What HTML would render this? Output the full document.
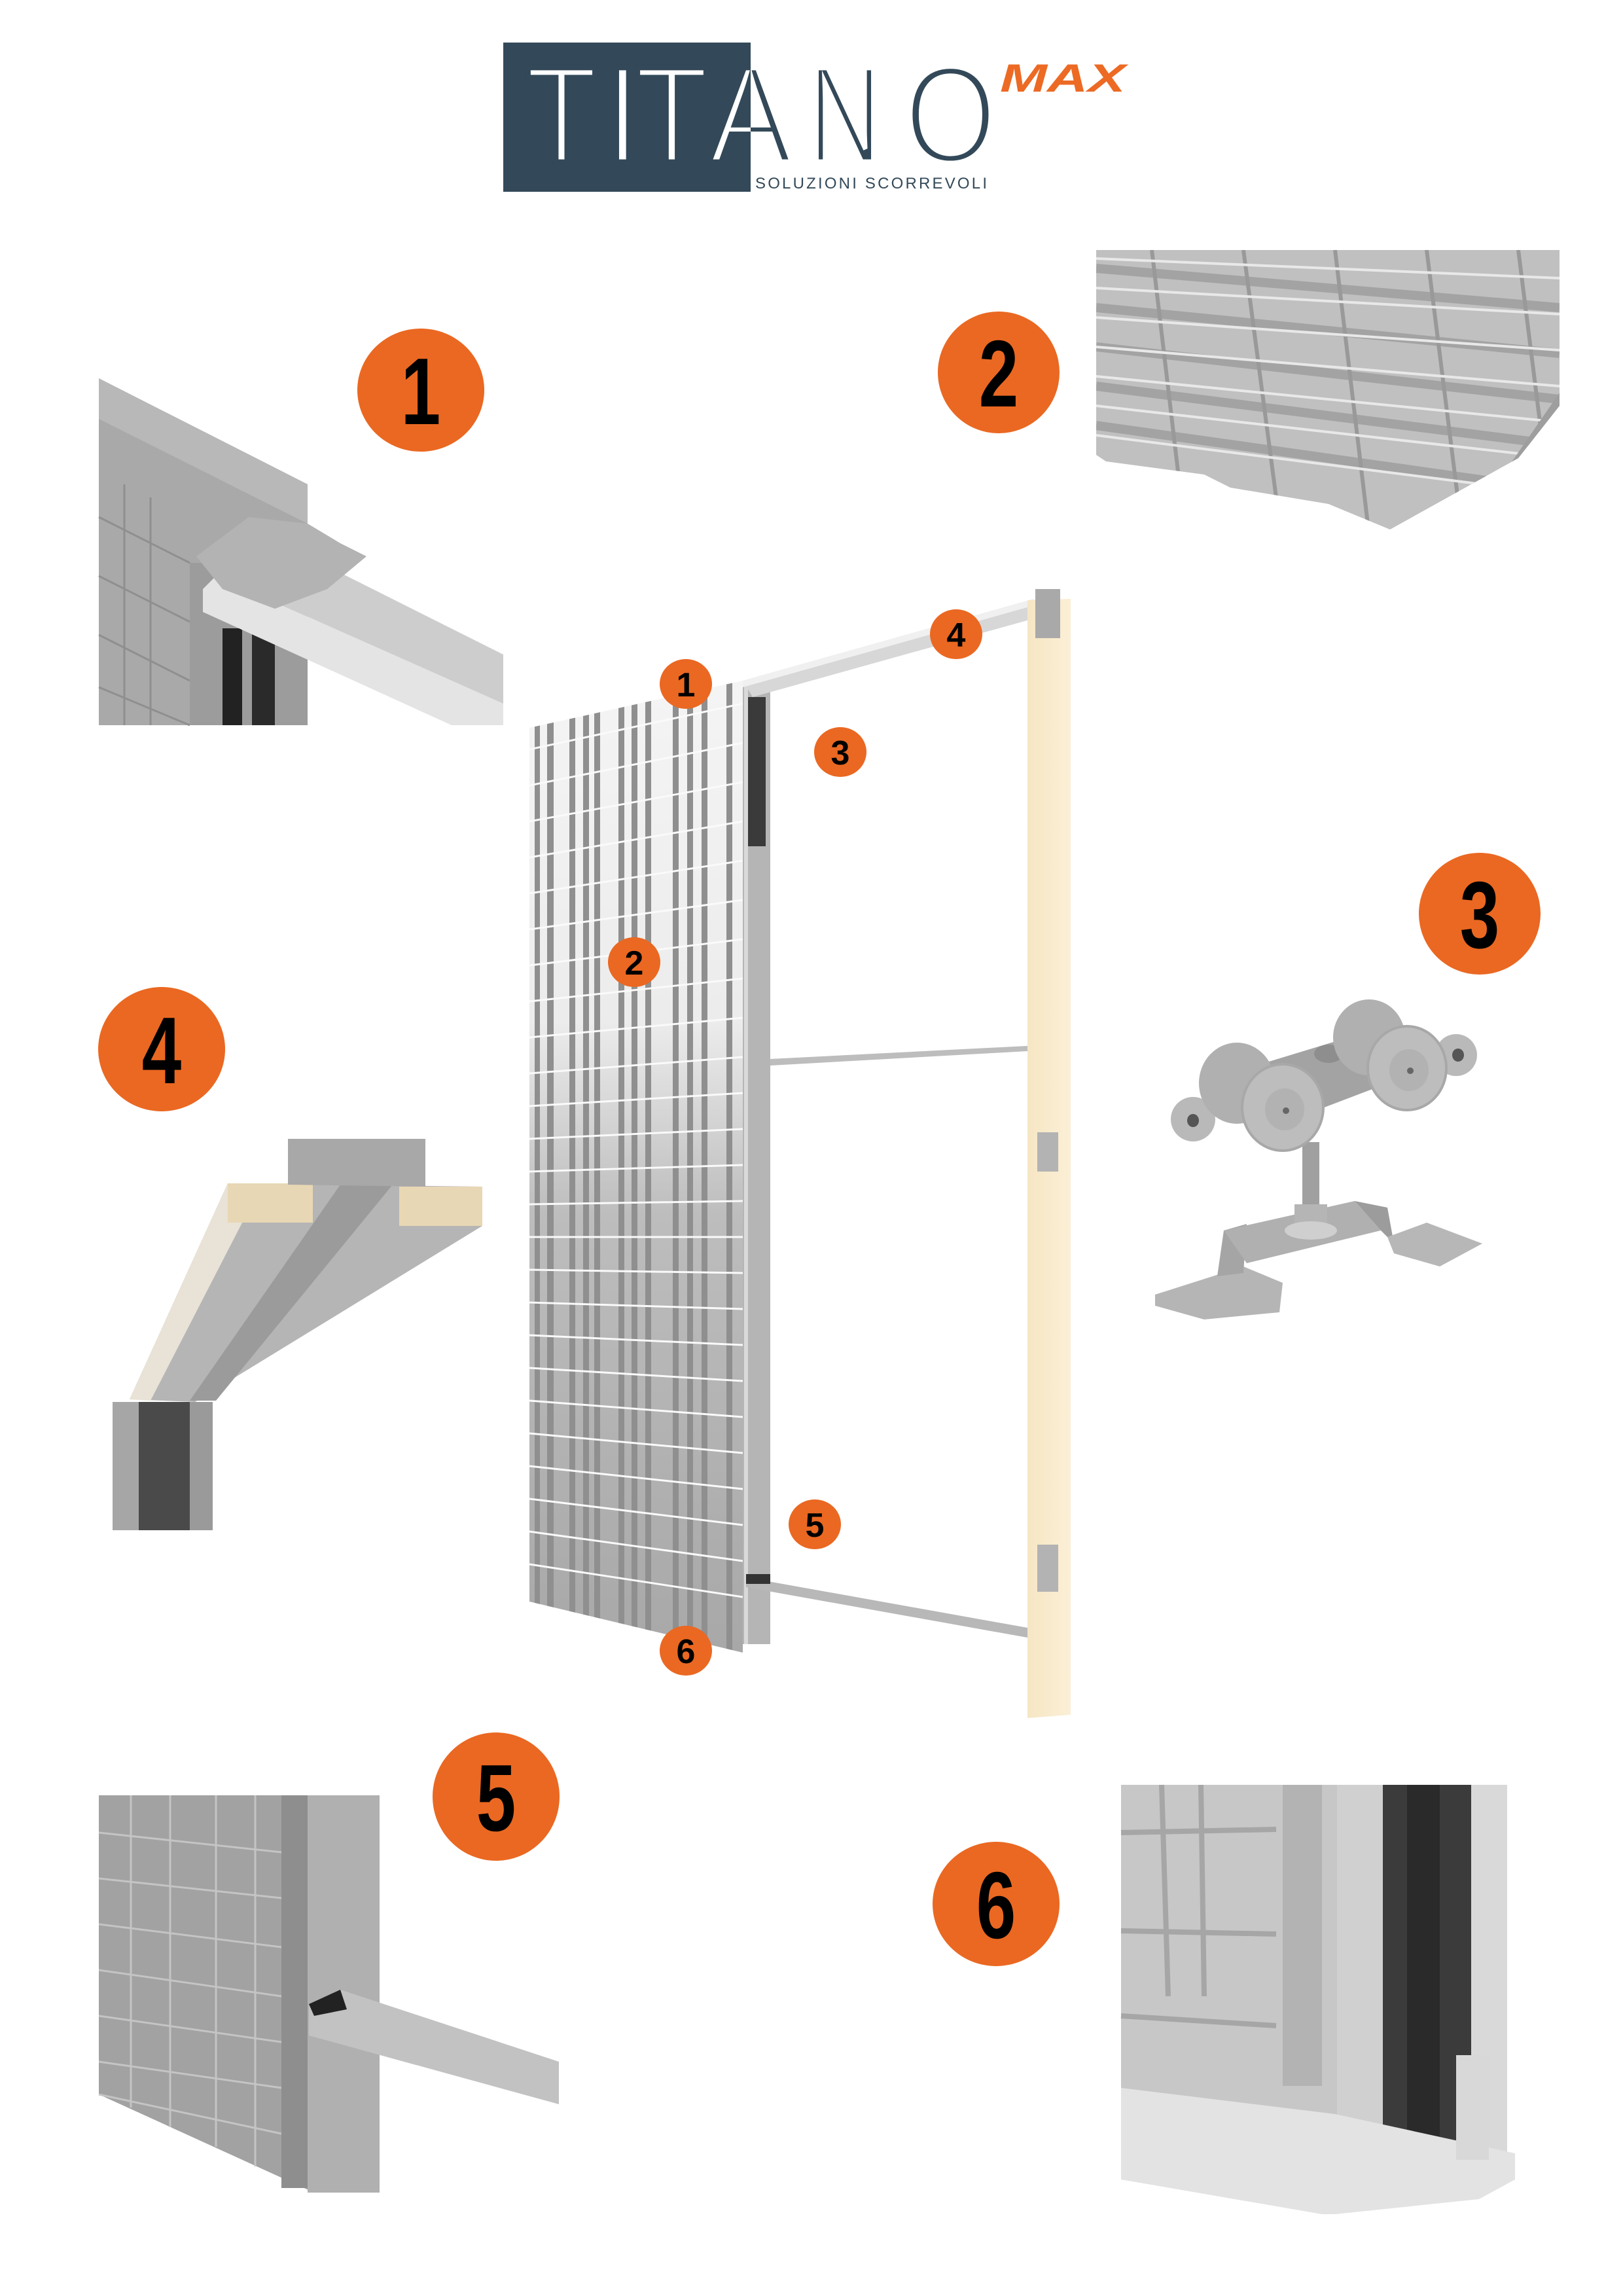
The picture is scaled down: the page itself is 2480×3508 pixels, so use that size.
<!DOCTYPE html>
<html><head><meta charset="utf-8"><style>
html,body{margin:0;padding:0;background:#fff}
svg{display:block}
</style></head><body>
<svg width="2480" height="3508" viewBox="0 0 2480 3508" xmlns="http://www.w3.org/2000/svg">
<defs>
<linearGradient id="panelg" x1="0" y1="0" x2="0" y2="1">
<stop offset="0" stop-color="#f4f4f4"/><stop offset="0.35" stop-color="#ececec"/><stop offset="0.55" stop-color="#bdbdbd"/><stop offset="1" stop-color="#a8a8a8"/></linearGradient>
<linearGradient id="wood" x1="0" y1="0" x2="1" y2="0">
<stop offset="0" stop-color="#f6e6c4"/><stop offset="1" stop-color="#fbefd6"/></linearGradient>
<clipPath id="boxclip"><rect x="769" y="65" width="378" height="228"/></clipPath>
<clipPath id="outclip"><rect x="1147" y="40" width="700" height="300"/></clipPath>
<clipPath id="panelclip"><polygon points="809,1112 1135,1040 1135,2525 809,2447"/></clipPath>
<clipPath id="p2clip"><polygon points="1675,382 2383,382 2383,620 2320,700 2124,809 2030,770 1880,745 1840,725 1690,705 1675,695"/></clipPath>
</defs>

<!-- LOGO -->
<rect x="769" y="65" width="378" height="228" fill="#334959"/>
<g font-family="Liberation Sans, sans-serif" font-size="211">
<g clip-path="url(#boxclip)" fill="#fff" stroke="#334959" stroke-width="9">
<text x="803" y="248" textLength="110" lengthAdjust="spacingAndGlyphs">T</text>
<text x="922" y="248">I</text>
<text x="970" y="248" textLength="113" lengthAdjust="spacingAndGlyphs">T</text>
<text x="1083" y="248" textLength="128" lengthAdjust="spacingAndGlyphs">A</text>
</g>
<g clip-path="url(#outclip)" fill="#334959" stroke="#fff" stroke-width="9">
<text x="1083" y="248" textLength="128" lengthAdjust="spacingAndGlyphs">A</text>
<text x="1235" y="248" textLength="112" lengthAdjust="spacingAndGlyphs">N</text>
<text x="1382" y="248" textLength="141" lengthAdjust="spacingAndGlyphs">O</text>
</g>
</g>
<text x="1528" y="140" font-family="Liberation Sans, sans-serif" font-size="60" font-weight="bold" font-style="italic" fill="#ec6a24" textLength="192" lengthAdjust="spacingAndGlyphs">MAX</text>
<text x="1154" y="288" font-family="Liberation Sans, sans-serif" font-size="24" fill="#334959" textLength="354" lengthAdjust="spacing">SOLUZIONI SCORREVOLI</text>

<!-- PHOTO 1 -->
<g>
<polygon points="151,578 470,740 470,1108 151,1108" fill="#a9a9a9"/>
<polygon points="151,578 470,740 470,800 151,640" fill="#b8b8b8"/>
<g stroke="#8f8f8f" stroke-width="3" fill="none">
<line x1="151" y1="790" x2="290" y2="860"/><line x1="151" y1="880" x2="290" y2="950"/><line x1="151" y1="970" x2="290" y2="1040"/><line x1="151" y1="1050" x2="290" y2="1108"/>
<line x1="190" y1="740" x2="190" y2="1108"/><line x1="230" y1="760" x2="230" y2="1108"/></g>
<rect x="290" y="860" width="180" height="248" fill="#9c9c9c"/>
<rect x="340" y="960" width="30" height="148" fill="#222"/><rect x="385" y="960" width="35" height="148" fill="#2a2a2a"/>
<polygon points="310,900 330,880 769,1075 769,1108 690,1108 310,935" fill="#e4e4e4"/>
<polygon points="330,880 410,820 769,1000 769,1075" fill="#cdcdcd"/>
<polygon points="300,850 380,790 470,800 520,830 560,850 500,900 420,930 340,900" fill="#b3b3b3"/>
</g>

<!-- PHOTO 2 -->
<g clip-path="url(#p2clip)">
<rect x="1675" y="382" width="708" height="430" fill="#c0c0c0"/>
<g stroke="#a3a3a3" stroke-width="14">
<line x1="1675" y1="410" x2="2383" y2="470"/><line x1="1675" y1="470" x2="2383" y2="540"/><line x1="1675" y1="530" x2="2383" y2="610"/><line x1="1675" y1="590" x2="2383" y2="680"/><line x1="1675" y1="650" x2="2383" y2="750"/></g>
<g stroke="#999" stroke-width="6">
<line x1="1760" y1="382" x2="1800" y2="720"/><line x1="1900" y1="382" x2="1950" y2="760"/><line x1="2040" y1="382" x2="2090" y2="800"/><line x1="2180" y1="382" x2="2230" y2="780"/><line x1="2320" y1="382" x2="2360" y2="700"/></g>
<g stroke="#e8e8e8" stroke-width="4">
<line x1="1675" y1="395" x2="2383" y2="425"/><line x1="1675" y1="440" x2="2383" y2="480"/><line x1="1675" y1="485" x2="2383" y2="535"/><line x1="1675" y1="530" x2="2383" y2="590"/><line x1="1675" y1="575" x2="2383" y2="645"/><line x1="1675" y1="620" x2="2383" y2="700"/><line x1="1675" y1="665" x2="2383" y2="755"/></g>
<polygon points="2300,720 2383,600 2383,625 2310,740" fill="#9e9e9e"/>
</g>

<!-- PHOTO 3 trolley -->
<g>
<!-- bracket -->
<polygon points="1765,1978 1900,1935 1960,1960 1955,2005 1840,2016 1765,1995" fill="#b5b5b5"/>
<polygon points="1860,1950 1870,1880 1905,1870 1900,1945" fill="#a5a5a5"/>
<polygon points="1870,1880 2070,1835 2110,1880 1905,1930" fill="#b0b0b0"/>
<polygon points="2070,1835 2120,1845 2130,1900 2110,1880" fill="#9c9c9c"/>
<polygon points="2120,1890 2180,1868 2265,1900 2200,1935 2130,1915" fill="#b7b7b7"/>
<!-- bolt and nut -->
<rect x="1990" y="1745" width="26" height="100" fill="#a0a0a0"/>
<rect x="1978" y="1840" width="50" height="38" fill="#b5b5b5"/>
<ellipse cx="2003" cy="1880" rx="40" ry="14" fill="#cfcfcf"/>
<!-- body -->
<polygon points="1880,1640 2110,1570 2160,1640 1950,1720" fill="#a3a3a3"/>
<ellipse cx="2030" cy="1610" rx="22" ry="14" fill="#8e8e8e"/>
<!-- ears -->
<ellipse cx="1823" cy="1710" rx="34" ry="34" fill="#b9b9b9"/><ellipse cx="1823" cy="1712" rx="9" ry="10" fill="#555"/>
<ellipse cx="2225" cy="1612" rx="32" ry="32" fill="#b9b9b9"/><ellipse cx="2228" cy="1612" rx="9" ry="10" fill="#555"/>
<!-- wheels -->
<ellipse cx="1890" cy="1655" rx="58" ry="62" fill="#b0b0b0"/>
<ellipse cx="2092" cy="1585" rx="55" ry="58" fill="#b0b0b0"/>
<ellipse cx="1960" cy="1692" rx="62" ry="66" fill="#bdbdbd" stroke="#a8a8a8" stroke-width="4"/>
<ellipse cx="1963" cy="1695" rx="30" ry="32" fill="#b2b2b2"/><circle cx="1965" cy="1697" r="5" fill="#666"/>
<ellipse cx="2150" cy="1632" rx="60" ry="64" fill="#bdbdbd" stroke="#a8a8a8" stroke-width="4"/>
<ellipse cx="2153" cy="1635" rx="30" ry="32" fill="#b2b2b2"/><circle cx="2155" cy="1636" r="5" fill="#666"/>
</g>

<!-- PHOTO 4 -->
<g>
<polygon points="348,1808 737,1813 737,1873 298,2142 198,2138" fill="#b5b5b5"/>
<polygon points="348,1808 400,1810 230,2140 198,2138" fill="#e9e2d6"/>
<polygon points="520,1810 600,1810 330,2140 290,2140" fill="#9b9b9b"/>
<rect x="348" y="1808" width="130" height="60" fill="#e8d7b4"/>
<rect x="610" y="1813" width="127" height="60" fill="#e8d7b4"/>
<polygon points="440,1740 650,1740 650,1813 440,1810" fill="#a8a8a8"/>
<rect x="172" y="2142" width="153" height="196" fill="#4a4a4a"/>
<rect x="172" y="2142" width="40" height="196" fill="#a6a6a6"/><rect x="290" y="2142" width="35" height="196" fill="#9a9a9a"/>
</g>

<!-- PHOTO 5 -->
<g>
<polygon points="151,2743 580,2743 580,3350 480,3350 151,3200" fill="#a2a2a2"/>
<g stroke="#c4c4c4" stroke-width="3">
<line x1="151" y1="2800" x2="430" y2="2830"/><line x1="151" y1="2870" x2="430" y2="2900"/><line x1="151" y1="2940" x2="430" y2="2975"/><line x1="151" y1="3010" x2="430" y2="3050"/><line x1="151" y1="3080" x2="430" y2="3120"/><line x1="151" y1="3150" x2="430" y2="3190"/><line x1="151" y1="3200" x2="430" y2="3260"/>
<line x1="200" y1="2743" x2="200" y2="3220"/><line x1="260" y1="2743" x2="260" y2="3250"/><line x1="330" y1="2743" x2="330" y2="3280"/><line x1="390" y1="2743" x2="390" y2="3310"/></g>
<rect x="430" y="2743" width="40" height="600" fill="#8e8e8e"/>
<rect x="470" y="2743" width="110" height="607" fill="#b0b0b0"/>
<polygon points="472,3062 520,3040 854,3150 854,3215 472,3110" fill="#c2c2c2"/>
<polygon points="472,3062 520,3040 530,3070 480,3080" fill="#222"/>
</g>

<!-- PHOTO 6 -->
<g>
<rect x="1713" y="2727" width="330" height="600" fill="#c7c7c7"/>
<g stroke="#a6a6a6" stroke-width="8"><line x1="1713" y1="2800" x2="1950" y2="2795"/><line x1="1713" y1="2950" x2="1950" y2="2955"/><line x1="1713" y1="3080" x2="1950" y2="3095"/><line x1="1775" y1="2727" x2="1785" y2="3050"/><line x1="1835" y1="2727" x2="1840" y2="3050"/></g>
<rect x="1960" y="2727" width="60" height="460" fill="#b3b3b3"/>
<rect x="2043" y="2727" width="70" height="600" fill="#d0d0d0"/>
<rect x="2113" y="2727" width="135" height="600" fill="#3b3b3b"/>
<rect x="2150" y="2727" width="50" height="600" fill="#2a2a2a"/>
<rect x="2248" y="2727" width="55" height="600" fill="#d9d9d9"/>
<polygon points="1713,3190 2040,3230 2315,3290 2315,3330 2260,3360 2040,3383 2020,3383 1713,3330" fill="#e3e3e3"/>
<rect x="2225" y="3140" width="50" height="160" fill="#d8d8d8"/>
</g>

<!-- CENTRAL DOOR -->
<g>
<polygon points="809,1112 1135,1040 1135,2525 809,2447" fill="url(#panelg)"/>
<g clip-path="url(#panelclip)">
<g fill="#8f8f8f">
<rect x="817" y="1000" width="8" height="1560"/><rect x="836" y="1000" width="10" height="1560"/><rect x="870" y="1000" width="9" height="1560"/><rect x="891" y="1000" width="9" height="1560"/><rect x="908" y="1000" width="9" height="1560"/><rect x="945" y="1000" width="9" height="1560"/><rect x="965" y="1000" width="9" height="1560"/><rect x="986" y="1000" width="9" height="1560"/><rect x="1028" y="1000" width="9" height="1560"/><rect x="1050" y="1000" width="9" height="1560"/><rect x="1072" y="1000" width="9" height="1560"/><rect x="1110" y="1000" width="9" height="1560"/>
</g>
<g stroke="#fafafa" stroke-width="3">
<line x1="809" y1="1145" x2="1135" y2="1075"/><line x1="809" y1="1200" x2="1135" y2="1135"/><line x1="809" y1="1255" x2="1135" y2="1195"/><line x1="809" y1="1310" x2="1135" y2="1255"/><line x1="809" y1="1365" x2="1135" y2="1315"/><line x1="809" y1="1420" x2="1135" y2="1375"/><line x1="809" y1="1475" x2="1135" y2="1435"/><line x1="809" y1="1530" x2="1135" y2="1495"/><line x1="809" y1="1585" x2="1135" y2="1555"/><line x1="809" y1="1640" x2="1135" y2="1615"/><line x1="809" y1="1690" x2="1135" y2="1670"/><line x1="809" y1="1740" x2="1135" y2="1725"/><line x1="809" y1="1790" x2="1135" y2="1780"/><line x1="809" y1="1840" x2="1135" y2="1835"/><line x1="809" y1="1890" x2="1135" y2="1890"/><line x1="809" y1="1940" x2="1135" y2="1945"/><line x1="809" y1="1990" x2="1135" y2="2000"/><line x1="809" y1="2040" x2="1135" y2="2055"/><line x1="809" y1="2090" x2="1135" y2="2110"/><line x1="809" y1="2140" x2="1135" y2="2165"/><line x1="809" y1="2190" x2="1135" y2="2220"/><line x1="809" y1="2240" x2="1135" y2="2275"/><line x1="809" y1="2290" x2="1135" y2="2330"/><line x1="809" y1="2340" x2="1135" y2="2385"/><line x1="809" y1="2390" x2="1135" y2="2440"/>
</g></g>
<rect x="1135" y="1045" width="42" height="1467" fill="#b5b5b5"/>
<rect x="1140" y="1065" width="30" height="228" fill="#3a3a3a"/>
<rect x="1137" y="1045" width="6" height="1467" fill="#d9d9d9"/>
<polygon points="1135,1040 1580,915 1580,945 1150,1065" fill="#d7d7d7"/>
<polygon points="1135,1040 1580,915 1580,925 1135,1050" fill="#f0f0f0"/>
<polygon points="1177,1618 1570,1598 1570,1606 1177,1628" fill="#bdbdbd"/>
<polygon points="1140,2410 1570,2487 1570,2502 1140,2425" fill="#b8b8b8"/>
<rect x="1140" y="2405" width="37" height="15" fill="#333"/>
<polygon points="1570,917 1636,915 1636,2620 1570,2625" fill="url(#wood)"/>
<rect x="1582" y="900" width="38" height="75" fill="#a9a9a9"/>
<rect x="1585" y="1730" width="32" height="60" fill="#b3b3b3"/>
<rect x="1585" y="2360" width="32" height="72" fill="#b3b3b3"/>
</g>

<!-- CIRCLES -->
<g fill="#ea6822">
<ellipse cx="643" cy="596" rx="97" ry="94"/>
<ellipse cx="1526" cy="569" rx="93" ry="93"/>
<ellipse cx="2261" cy="1396" rx="93" ry="93"/>
<ellipse cx="247" cy="1603" rx="97" ry="95"/>
<ellipse cx="758" cy="2745" rx="97" ry="98"/>
<ellipse cx="1522" cy="2909" rx="97" ry="95"/>
<ellipse cx="1048" cy="1045" rx="40" ry="38"/>
<ellipse cx="969" cy="1470" rx="40" ry="38"/>
<ellipse cx="1284" cy="1149" rx="40" ry="38"/>
<ellipse cx="1461" cy="969" rx="40" ry="38"/>
<ellipse cx="1245" cy="2329" rx="40" ry="38"/>
<ellipse cx="1048" cy="2522" rx="40" ry="38"/>
</g>
<g font-family="Liberation Sans, sans-serif" font-weight="bold" fill="#000" text-anchor="middle">
<g font-size="145">
<text x="643" y="648" transform="translate(643 0) scale(0.75 1) translate(-643 0)">1</text>
<text x="1526" y="621" transform="translate(1526 0) scale(0.75 1) translate(-1526 0)">2</text>
<text x="2261" y="1448" transform="translate(2261 0) scale(0.75 1) translate(-2261 0)">3</text>
<text x="247" y="1655" transform="translate(247 0) scale(0.75 1) translate(-247 0)">4</text>
<text x="758" y="2797" transform="translate(758 0) scale(0.75 1) translate(-758 0)">5</text>
<text x="1522" y="2961" transform="translate(1522 0) scale(0.75 1) translate(-1522 0)">6</text>
</g>
<g font-size="52">
<text x="1048" y="1064">1</text>
<text x="969" y="1489">2</text>
<text x="1284" y="1168">3</text>
<text x="1461" y="988">4</text>
<text x="1245" y="2348">5</text>
<text x="1048" y="2541">6</text>
</g>
</g>
</svg>
</body></html>
